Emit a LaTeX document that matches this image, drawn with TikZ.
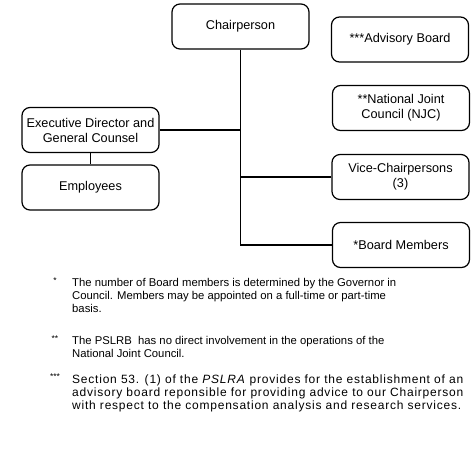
\documentclass[tikz,border=0pt]{standalone}
\usepackage{fontspec}
\setmainfont{Liberation Sans}
\tikzset{
  orgbox/.style={draw,line width=1.2pt,rounded corners=8pt,minimum width=137pt,
    minimum height=45pt,inner sep=0pt,align=center,
    font=\fontsize{12.7}{15}\selectfont},
  fnote/.style={anchor=north west,inner sep=0pt,align=left,
    font=\fontsize{11.3}{13}\selectfont},
  fmark/.style={inner sep=0pt,font=\fontsize{8.5}{8.5}\selectfont}
}
\begin{document}
\begin{tikzpicture}[x=1pt,y=-1pt]
    \useasboundingbox (0,0) rectangle (474,456);
    %boxes
    \node[orgbox] (chair) at (240.5,26.5) {Chairperson};
    \node[orgbox] (adv) at (400,39.5) {***Advisory Board};
    \node[orgbox] (njc) at (401,108) {**National Joint\\Council (NJC)};
    \node[orgbox] (exec) at (90.5,130) {Executive Director and\\General Counsel};
    \node[orgbox] (emp) at (90.5,187.5) {Employees};
    \node[orgbox] (vice) at (400.5,177) {Vice-Chairpersons\\(3)};
    \node[orgbox] (board) at (401,245) {*Board Members};
    %lines
    \coordinate (trunk) at (240.5,129);
    \draw[line width=1.2pt] (chair.south) |- (board.west);
    \draw[line width=1.2pt] (exec.east) -- (exec.east -| trunk);
    \draw[line width=1.2pt] (vice.west) -- (vice.west -| trunk);
    \draw[line width=1.2pt] (exec.south) -- (emp.north);
    %footnotes
    \node[fmark] (m1) at (55,281) {*};
    \node[fnote] (f1) at (72,278) {The number of Board members is determined by the Governor in\\
      Council. Members may be appointed on a full-time or part-time\\basis.};
    \node[fmark] (m2) at (55,339) {**};
    \node[fnote] (f2) at (72,336) {The PSLRB\ \ has no direct involvement in the operations of the\\
      National Joint Council.};
    \node[fmark] (m3) at (55,377) {***};
    \node[fnote,font=\fontsize{12}{13}\selectfont\addfontfeature{LetterSpace=6.5}] (f3) at (72,375)
      {Section 53. (1) of the \textit{PSLRA} provides for the establishment of an\\
      advisory board reponsible for providing advice to our Chairperson\\
      with respect to the compensation analysis and research services.};
\end{tikzpicture}
\end{document}
